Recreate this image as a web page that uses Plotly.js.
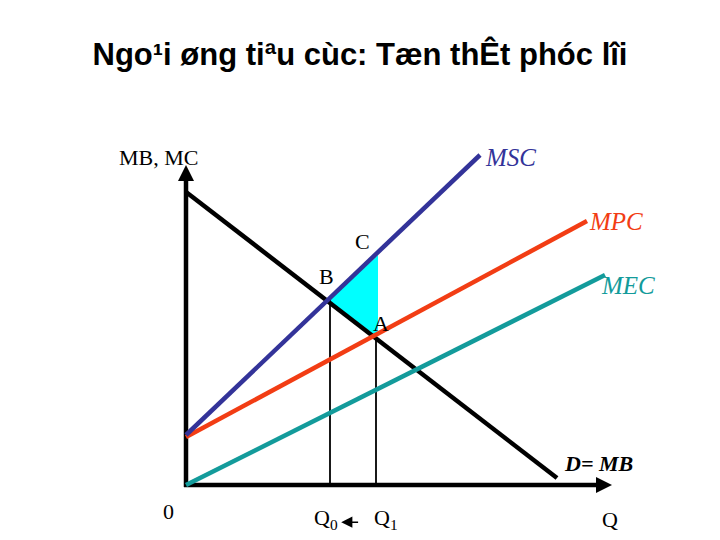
<!DOCTYPE html>
<html><head><meta charset="utf-8">
<script src="https://cdn.plot.ly/plotly-3.0.1.min.js"></script>
<style>body{margin:0;background:#fff}</style>
</head><body>
<div id="chart" style="width:720px;height:540px"></div>
<script>
// Data (quantity / price units)
const titleText = "Ngo¹i øng tiªu cùc: Tæn thÊt phóc lîi";
const demandQ = [0, 9.275];
const demandP = [7.325, 0.175];
const mscQ = [0, 7.35];
const mscP = [1.25, 8.25];
const mpcQ = [0, 10.025];
const mpcP = [1.2, 6.6];
const mecQ = [0, 10.475];
const mecP = [0, 5.25];
// welfare loss triangle: B, C, A
const lossQ = [3.55, 4.8, 4.8, 4.75, 3.55];
const lossP = [4.625, 5.75, 3.9, 3.725, 4.625];
const Q0 = 3.6, P0 = 4.625;
const Q1 = 4.75, P1 = 3.725;
const xAxisEnd = 10.65, yAxisEnd = 8.0;

const navy = '#333399', orange = '#F23D14', teal = '#139B9B', cyan = '#00FFFF';

const traces = [
  {x: lossQ, y: lossP, mode: 'lines', fill: 'toself', fillcolor: cyan, line: {width: 0, color: cyan}, hoverinfo: 'skip'},
  {x: [Q0, Q0], y: [0, P0], mode: 'lines', line: {color: '#000', width: 1.8}},
  {x: [Q1, Q1], y: [0, P1], mode: 'lines', line: {color: '#000', width: 1.8}},
  {x: demandQ, y: demandP, mode: 'lines', line: {color: '#000', width: 4.5}},
  {x: mecQ, y: mecP, mode: 'lines', line: {color: teal, width: 4.5}},
  {x: mpcQ, y: mpcP, mode: 'lines', line: {color: orange, width: 4.5}},
  {x: mscQ, y: mscP, mode: 'lines', line: {color: navy, width: 4.5}}
];

const times = 'Liberation Serif, Times New Roman, serif';
function lab(x, y, text, opts) {
  return Object.assign({x: x, y: y, xref: 'x', yref: 'y', text: text, showarrow: false,
    font: {family: times, size: 22, color: '#000'}}, opts || {});
}

const annotations = [
  lab(-0.7, 8.2, 'MB, MC'),
  lab(8.1, 8.2, '<i>MSC</i>', {font: {family: times, size: 25, color: navy}}),
  lab(10.75, 6.6, '<i>MPC</i>', {font: {family: times, size: 25, color: orange}}),
  lab(11.05, 5.0, '<i>MEC</i>', {font: {family: times, size: 25, color: teal}}),
  lab(4.4, 6.1, 'C'),
  lab(3.5, 5.22, 'B'),
  lab(4.88, 4.05, 'A'),
  lab(10.3, 0.55, '<b><i>D= MB</i></b>', {font: {family: times, size: 22, color: '#000'}}),
  lab(-0.45, -0.65, '0'),
  lab(3.5, -0.85, 'Q<sub>0</sub>'),
  lab(5.0, -0.85, 'Q<sub>1</sub>'),
  lab(10.6, -0.85, 'Q'),
  // axis arrowheads
  {x: 0, y: yAxisEnd, ax: 0, ay: yAxisEnd - 0.6, xref: 'x', yref: 'y', axref: 'x', ayref: 'y',
   text: '', showarrow: true, arrowhead: 2, arrowsize: 0.8, arrowwidth: 4, arrowcolor: '#000'},
  {x: xAxisEnd, y: 0, ax: xAxisEnd - 0.6, ay: 0, xref: 'x', yref: 'y', axref: 'x', ayref: 'y',
   text: '', showarrow: true, arrowhead: 2, arrowsize: 0.8, arrowwidth: 4, arrowcolor: '#000'},
  // Q1 -> Q0 arrow
  {x: 3.88, y: -0.93, ax: 4.34, ay: -0.93, xref: 'x', yref: 'y', axref: 'x', ayref: 'y',
   text: '', showarrow: true, arrowhead: 2, arrowsize: 1.4, arrowwidth: 1.6, arrowcolor: '#000'}
];

const shapes = [
  {type: 'line', xref: 'x', yref: 'y', x0: 0, y0: -0.05, x1: 0, y1: yAxisEnd - 0.2, line: {color: '#000', width: 4.5}, layer: 'below'},
  {type: 'line', xref: 'x', yref: 'y', x0: -0.05, y0: 0, x1: xAxisEnd - 0.2, y1: 0, line: {color: '#000', width: 4.5}, layer: 'below'}
];

const layout = {
  width: 720, height: 540,
  margin: {l: 0, r: 0, t: 0, b: 0},
  paper_bgcolor: '#fff', plot_bgcolor: '#fff',
  showlegend: false,
  title: {text: '<b>' + titleText + '</b>', x: 0.5, xanchor: 'center', y: 0.9, yanchor: 'middle', yref: 'container',
          font: {family: 'Liberation Sans, Arial, sans-serif', size: 31, color: '#000'}},
  xaxis: {range: [-4.65, 13.35], visible: false, fixedrange: true},
  yaxis: {range: [-1.375, 12.125], visible: false, fixedrange: true},
  annotations: annotations,
  shapes: shapes
};

Plotly.newPlot('chart', traces, layout, {staticPlot: true, displayModeBar: false});
</script>
</body></html>
